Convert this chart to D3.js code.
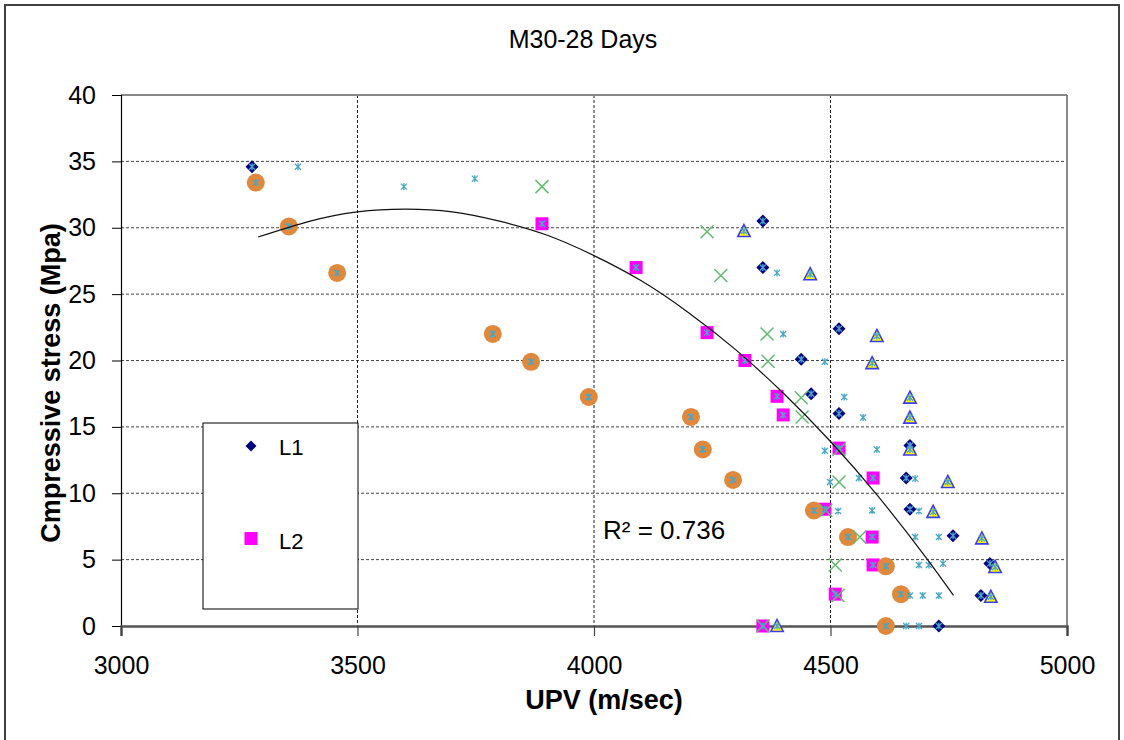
<!DOCTYPE html>
<html>
<head>
<meta charset="utf-8">
<script src="https://cdn.jsdelivr.net/npm/d3@7"></script>
<style>
  html, body { margin: 0; padding: 0; background: #ffffff; }
  svg { display: block; }
  text { font-family: "Liberation Sans", Arial, sans-serif; fill: #000; }
</style>
</head>
<body>
<svg id="chart" width="1124" height="740"></svg>
<script>
// ---------------- DATA ----------------
const chartTitle = "M30-28 Days";
const xTitle = "UPV (m/sec)";
const yTitle = "Cmpressive stress (Mpa)";
const xTicks = [3000, 3500, 4000, 4500, 5000];
const yTicks = [0, 5, 10, 15, 20, 25, 30, 35, 40];
const r2Label = "R² = 0.736";

// L1 (navy diamonds)
const l1UPV    = [3277, 4357, 4357, 4518, 4438, 4459, 4518, 4668, 4660, 4668, 4759, 4837, 4818, 4729];
const l1Stress = [34.6, 30.5, 27.0, 22.4, 20.1, 17.5, 16.0, 13.6, 11.15, 8.8, 6.8, 4.7, 2.3, 0.0];

// L2 (magenta squares)
const l2UPV    = [3890, 4089, 4239, 4319, 4387, 4400, 4518, 4590, 4488, 4588, 4590, 4510, 4357];
const l2Stress = [30.3, 27.0, 22.1, 20.0, 17.3, 15.9, 13.4, 11.15, 8.8, 6.7, 4.6, 2.4, 0.0];

// L3 (orange circles)
const l3UPV    = [3285, 3355, 3457, 3786, 3867, 3989, 4205, 4230, 4294, 4465, 4537, 4617, 4649, 4617];
const l3Stress = [33.4, 30.1, 26.6, 22.0, 19.9, 17.25, 15.75, 13.3, 11.0, 8.7, 6.7, 4.5, 2.4, 0.0];

// L4 (yellow triangles)
const l4UPV    = [4317, 4457, 4598, 4588, 4668, 4668, 4668, 4748, 4717, 4820, 4848, 4839, 4387];
const l4Stress = [29.75, 26.5, 21.85, 19.8, 17.2, 15.7, 13.3, 10.85, 8.6, 6.6, 4.45, 2.2, 0.0];

// L5 (green crosses)
const l5UPV    = [3890, 4239, 4268, 4366, 4368, 4438, 4440, 4518, 4518, 4490, 4562, 4510, 4516, 4357];
const l5Stress = [33.1, 29.7, 26.4, 22.0, 19.95, 17.2, 15.75, 13.3, 10.85, 8.7, 6.7, 4.6, 2.3, 0.0];

// L6 (small light-blue stars, points not hidden under other markers)
const l6UPV    = [3374, 3598, 3748, 4387, 4400, 4488, 4529, 4569, 4488, 4598, 4499, 4560, 4516, 4588,
                  4679, 4687, 4679, 4729, 4687, 4708, 4738, 4668, 4695, 4729, 4660, 4687];
const l6Stress = [34.6, 33.1, 33.7, 26.6, 22.0, 19.9, 17.25, 15.7, 13.2, 13.3, 10.85, 11.15, 8.66, 8.7,
                  11.1, 8.66, 6.7, 6.7, 4.6, 4.6, 4.7, 2.3, 2.3, 2.3, 0.0, 0.0];

// Polynomial trendline
const trendUPV    = [3290, 3400, 3500, 3600, 3700, 3800, 3900, 4000, 4100, 4200, 4300, 4400, 4500, 4600, 4700, 4760];
const trendStress = [29.3, 30.5, 31.2, 31.4, 31.2, 30.5, 29.45, 27.9, 26.0, 23.6, 20.8, 17.55, 13.9, 9.8, 5.25, 2.3];

// ---------------- CHART ----------------
const svg = d3.select("#chart");
const plot = { left: 121, right: 1067, top: 95, bottom: 626 };

const x = d3.scaleLinear().domain([3000, 5000]).range([plot.left, plot.right]);
const y = d3.scaleLinear().domain([0, 40]).range([plot.bottom, plot.top]);

// outer frame
svg.append("rect").attr("x", 5).attr("y", 5).attr("width", 1114).attr("height", 760)
  .attr("fill", "#fff").attr("stroke", "#404040").attr("stroke-width", 2);

// gridlines
const grid = svg.append("g");
grid.selectAll("line.h").data(yTicks.filter(d => d > 0 && d < 40)).join("line")
  .attr("x1", plot.left).attr("x2", plot.right)
  .attr("y1", d => y(d)).attr("y2", d => y(d))
  .attr("stroke", "#444").attr("stroke-width", 1).attr("stroke-dasharray", "3,2");
grid.selectAll("line.v").data(xTicks.filter(d => d > 3000 && d < 5000)).join("line")
  .attr("y1", plot.top).attr("y2", plot.bottom)
  .attr("x1", d => x(d)).attr("x2", d => x(d))
  .attr("stroke", "#222").attr("stroke-width", 1).attr("stroke-dasharray", "3,2");

// plot border top/right
svg.append("line").attr("x1", plot.left).attr("x2", plot.right).attr("y1", plot.top).attr("y2", plot.top)
  .attr("stroke", "#888").attr("stroke-width", 2);
svg.append("line").attr("x1", plot.right).attr("x2", plot.right).attr("y1", plot.top).attr("y2", plot.bottom)
  .attr("stroke", "#888").attr("stroke-width", 2);

// axes
const yAxis = svg.append("g").attr("transform", `translate(${plot.left},0)`)
  .call(d3.axisLeft(y).tickValues(yTicks).tickSize(9).tickPadding(16).tickFormat(d3.format("d")));
yAxis.select(".domain").attr("stroke", "#000").attr("stroke-width", 1.2);
yAxis.selectAll(".tick line").attr("stroke", "#000");
yAxis.selectAll("text").attr("font-size", 25).attr("font-family", "Liberation Sans, Arial, sans-serif");

const xAxis = svg.append("g").attr("transform", `translate(0,${plot.bottom})`)
  .call(d3.axisBottom(x).tickValues(xTicks).tickSize(10).tickPadding(20).tickFormat(d3.format("d")));
xAxis.select(".domain").attr("stroke", "#555").attr("stroke-width", 2.5);
xAxis.selectAll(".tick line").attr("stroke", "#444").attr("stroke-width", 1.2);
xAxis.selectAll("text").attr("font-size", 25).attr("font-family", "Liberation Sans, Arial, sans-serif");

// shapes
const diamond = "M0,-6.5L6.5,0L0,6.5L-6.5,0Z";
const triangle = "M0,-6.5L6.2,5.5L-6.2,5.5Z";
const cross = "M-6.5,-6.5L6.5,6.5M6.5,-6.5L-6.5,6.5";
const star = "M-3,-3L3,3M3,-3L-3,3M0,-3.5L0,3.5";

const pts = (xs, ys) => xs.map((v, i) => ({ x: v, y: ys[i] }));
const L1 = pts(l1UPV, l1Stress), L2 = pts(l2UPV, l2Stress), L3 = pts(l3UPV, l3Stress),
      L4 = pts(l4UPV, l4Stress), L5 = pts(l5UPV, l5Stress), L6 = pts(l6UPV, l6Stress);

const marks = svg.append("g");
marks.selectAll("path.l1").data(L1).join("path")
  .attr("d", diamond).attr("transform", d => `translate(${x(d.x)},${y(d.y)})`)
  .attr("fill", "#000080");
marks.selectAll("rect.l2").data(L2).join("rect")
  .attr("x", d => x(d.x) - 6.5).attr("y", d => y(d.y) - 6.5).attr("width", 13).attr("height", 13)
  .attr("fill", "#ff00ff");
marks.selectAll("circle.l3").data(L3).join("circle")
  .attr("cx", d => x(d.x)).attr("cy", d => y(d.y)).attr("r", 9)
  .attr("fill", "#e0883c");
marks.selectAll("path.l4").data(L4).join("path")
  .attr("d", triangle).attr("transform", d => `translate(${x(d.x)},${y(d.y)})`)
  .attr("fill", "#ffff00").attr("stroke", "#3c3cf0").attr("stroke-width", 1.6).attr("stroke-linejoin", "miter");
marks.selectAll("path.l5").data(L5).join("path")
  .attr("d", cross).attr("transform", d => `translate(${x(d.x)},${y(d.y)})`)
  .attr("fill", "none").attr("stroke", "#62bb70").attr("stroke-width", 1.5);
// star series plus its points that sit under the other markers
const starPts = L6.concat(L1, L2, L3, L4);
marks.selectAll("path.l6").data(starPts).join("path")
  .attr("d", star).attr("transform", d => `translate(${x(d.x)},${y(d.y)})`)
  .attr("fill", "none").attr("stroke", "#4aa6c4").attr("stroke-width", 1.3);

// trendline
const trend = pts(trendUPV, trendStress);
svg.append("path").datum(trend)
  .attr("d", d3.line().x(d => x(d.x)).y(d => y(d.y)).curve(d3.curveNatural))
  .attr("fill", "none").attr("stroke", "#111").attr("stroke-width", 1.2);

// R² label
svg.append("text").attr("x", 603).attr("y", 539).attr("font-size", 26).text(r2Label);

// legend
const lg = svg.append("g");
lg.append("rect").attr("x", 203).attr("y", 423).attr("width", 155).attr("height", 186)
  .attr("fill", "#fff").attr("stroke", "#000").attr("stroke-width", 1);
lg.append("path").attr("d", diamond).attr("transform", "translate(251,446) scale(0.85)").attr("fill", "#000080");
lg.append("text").attr("x", 279).attr("y", 455).attr("font-size", 22).text("L1");
lg.append("rect").attr("x", 244.5).attr("y", 532).attr("width", 13).attr("height", 13).attr("fill", "#ff00ff");
lg.append("text").attr("x", 279).attr("y", 549).attr("font-size", 22).text("L2");

// titles
svg.append("text").attr("x", 583).attr("y", 48).attr("text-anchor", "middle")
  .attr("font-size", 25).text(chartTitle);
svg.append("text").attr("x", 604).attr("y", 709).attr("text-anchor", "middle")
  .attr("font-size", 27).attr("font-weight", "bold").text(xTitle);
svg.append("text").attr("transform", "translate(60,383) rotate(-90)").attr("text-anchor", "middle")
  .attr("font-size", 27).attr("font-weight", "bold").text(yTitle);
</script>
</body>
</html>
